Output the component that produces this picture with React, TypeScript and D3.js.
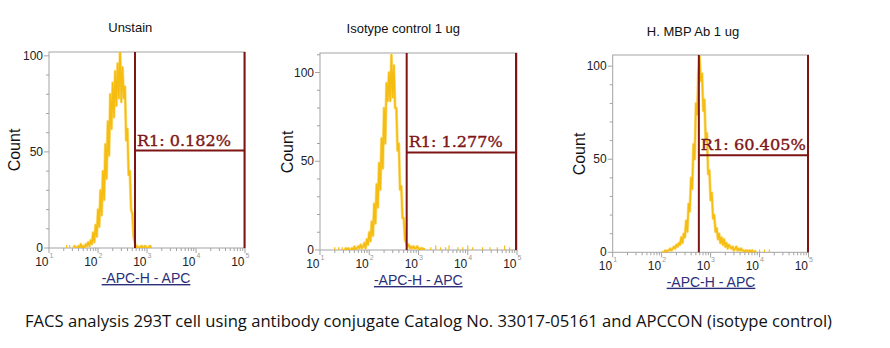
import React from 'react';
import * as d3 from 'd3';

// ---------- data ----------
const TITLES = ['Unstain', 'Isotype control 1 ug', 'H. MBP Ab 1 ug'];
const GATE_LABELS = ['R1: 0.182%', 'R1: 1.277%', 'R1: 60.405%'];
const X_LABEL = '-APC-H - APC';
const Y_LABEL = 'Count';
const CAPTION =
  'FACS analysis 293T cell using antibody conjugate Catalog No. 33017-05161 and APCCON (isotype control)';

const X_EXPONENTS = [1, 2, 3, 4, 5];
const Y_MAJOR = [0, 50, 100];
const Y_MINOR = [10, 20, 30, 40, 60, 70, 80, 90, 110];

// histogram bins: log10(APC) channel, width in decades
const BIN_WIDTH = 0.025;

const UNSTAIN_START = 1.5;
const UNSTAIN_COUNTS = [
  0, 1, 0, 0, 1, 0, 2, 0, 1, 0, 2, 1, 3, 1, 4, 2,
  8, 3, 12, 6, 20, 11, 30, 17, 40, 25, 54, 36, 66, 48, 80, 62,
  86, 68, 92, 74, 96, 78, 104, 76, 94, 78, 84, 56, 62, 38, 40, 20,
  18, 6, 3, 0, 1, 0, 0, 1, 0, 0, 1, 0, 0, 0, 1, 0,
];
const UNSTAIN_SPARSE: [number, number][] = [
  [1.36, 1], [1.42, 1], [2.9, 1], [2.98, 1], [3.08, 1],
];

const ISOTYPE_START = 1.5;
const ISOTYPE_COUNTS = [
  0, 1, 0, 1, 0, 0, 1, 0, 2, 0, 1, 2, 1, 3, 1, 2,
  4, 1, 6, 3, 10, 5, 16, 8, 26, 15, 37, 24, 49, 34, 63, 46,
  80, 60, 94, 84, 100, 84, 110, 86, 104, 80, 80, 56, 60, 34, 36, 18,
  18, 6, 4, 2, 3, 1, 2, 1, 2, 1, 1, 2, 1, 0, 1, 1, 0, 1,
];
const ISOTYPE_SPARSE: [number, number][] = [
  [1.3, 1], [1.38, 1], [1.45, 1], [3.25, 1], [3.35, 2], [3.45, 1], [3.55, 1],
  [3.62, 2], [3.8, 1], [3.9, 1], [4.0, 2], [4.1, 1], [4.3, 1], [4.45, 1],
  [4.6, 1], [4.75, 2], [4.85, 1],
];

const MBP_START = 2.0;
const MBP_COUNTS = [
  0, 0, 0, 1, 0, 1, 1, 2, 1, 2, 3, 2, 4, 3, 5, 4,
  8, 5, 10, 8, 17, 11, 26, 22, 40, 34, 58, 50, 80, 74, 96, 105,
  92, 96, 76, 82, 60, 64, 42, 44, 28, 32, 18, 20, 11, 13, 7, 10,
  5, 8, 4, 7, 3, 5, 2, 4, 3, 2, 3, 1, 2, 3, 1, 2,
  1, 2, 1, 1, 0, 1, 1, 0, 1, 0, 1, 0, 0, 1,
];
const MBP_SPARSE: [number, number][] = [
  [4.0, 1], [4.1, 1], [4.2, 1],
];

const GATE_LOW = [2.755, 2.76, 2.76];
const GATE_HIGH = [4.99, 4.98, 4.99];
const GATE_LEVEL = [50.7, 55, 52.2];
const Y_MAX = [102, 111, 106];

// ---------- layout ----------
const LAYOUT = [
  { left: 49, right: 245, top: 52, bottom: 248, titleX: 130.3, titleY: 31.7, xlabX: 146, xlabY: 283, countX: 14.5, countY: 150 },
  { left: 320, right: 517, top: 53, bottom: 250, titleX: 403.3, titleY: 33.3, xlabX: 418.3, xlabY: 285, countX: 287, countY: 152 },
  { left: 612.7, right: 808.5, top: 55, bottom: 252.3, titleX: 693, titleY: 36, xlabX: 711, xlabY: 286.7, countX: 579.5, countY: 154 },
];

const SERIES = [
  { start: UNSTAIN_START, counts: UNSTAIN_COUNTS, sparse: UNSTAIN_SPARSE },
  { start: ISOTYPE_START, counts: ISOTYPE_COUNTS, sparse: ISOTYPE_SPARSE },
  { start: MBP_START, counts: MBP_COUNTS, sparse: MBP_SPARSE },
];

const AXIS = '#a3a3a3';
const HIST = '#f5bc12';
const GATE = '#7e1515';
const SANS = 'Arial, "Liberation Sans", sans-serif';

function Panel({ i }: { i: number }) {
  const L = LAYOUT[i];
  const S = SERIES[i];
  const x = d3.scaleLog().domain([10, 1e5]).range([L.left, L.right]);
  const y = d3.scaleLinear().domain([0, Y_MAX[i]]).range([L.bottom, L.top]);
  const pts: [number, number][] = S.counts.map((c, k) => [S.start + k * BIN_WIDTH, c]);
  const line = d3
    .line<[number, number]>()
    .x((d) => x(Math.pow(10, d[0])))
    .y((d) => y(d[1]));
  const minorX: number[] = [];
  for (let e = 1; e < 5; e++) for (let m = 2; m < 10; m++) minorX.push(m * Math.pow(10, e));
  const clipId = `clip${i}`;
  const gl = x(Math.pow(10, GATE_LOW[i]));
  const gh = x(Math.pow(10, GATE_HIGH[i]));
  const gy = y(GATE_LEVEL[i]);
  return (
    <g>
      <defs>
        <clipPath id={clipId}>
          <rect x={L.left} y={L.top} width={L.right - L.left} height={L.bottom - L.top} />
        </clipPath>
      </defs>
      <text x={L.titleX} y={L.titleY} textAnchor="middle" fontFamily={SANS} fontSize={13} fill="#111">
        {TITLES[i]}
      </text>
      {/* box */}
      <rect x={L.left} y={L.top} width={L.right - L.left} height={L.bottom - L.top} fill="none" stroke={AXIS} strokeWidth={1} />
      {/* y ticks */}
      {Y_MINOR.filter((v) => v <= Y_MAX[i]).map((v) => (
        <line key={'ym' + v} x1={L.left - 3} x2={L.left} y1={y(v)} y2={y(v)} stroke={AXIS} />
      ))}
      {Y_MAJOR.map((v) => (
        <g key={'yM' + v}>
          <line x1={L.left - 5} x2={L.left} y1={y(v)} y2={y(v)} stroke={AXIS} />
          <text x={L.left - 6} y={y(v) + 4} textAnchor="end" fontFamily={SANS} fontSize={12} fill="#222">
            {v}
          </text>
        </g>
      ))}
      {/* x ticks */}
      {minorX.map((v) => (
        <line key={'xm' + v} x1={x(v)} x2={x(v)} y1={L.bottom} y2={L.bottom + 3} stroke={AXIS} />
      ))}
      {X_EXPONENTS.map((e) => {
        const px = x(Math.pow(10, e));
        return (
          <g key={'xM' + e}>
            <line x1={px} x2={px} y1={L.bottom} y2={L.bottom + 5} stroke={AXIS} />
            <text x={px - 0.5} y={L.bottom + 18} textAnchor="end" fontFamily={SANS} fontSize={12} fill="#222">
              10
            </text>
            <text x={px + 0.5} y={L.bottom + 10} fontFamily={SANS} fontSize={7} fill="#999">
              {e}
            </text>
          </g>
        );
      })}
      {/* histogram */}
      <g clipPath={`url(#${clipId})`}>
        <path d={line(pts) || ''} fill="none" stroke="#fbd24e" strokeWidth={3} strokeLinejoin="round" opacity={0.7} />
        <path d={line(pts) || ''} fill="none" stroke={HIST} strokeWidth={1.6} strokeLinejoin="round" />
        {S.sparse.map(([lg, c], k) => {
          const px = x(Math.pow(10, lg));
          return <line key={'sp' + k} x1={px} x2={px} y1={y(0)} y2={y(c) - 1} stroke={HIST} strokeWidth={1.2} />;
        })}
      </g>
      {/* gate */}
      <line x1={gl} x2={gl} y1={L.top} y2={L.bottom} stroke={GATE} strokeWidth={2} />
      <line x1={gh} x2={gh} y1={L.top} y2={L.bottom} stroke={GATE} strokeWidth={2} />
      <line x1={gl} x2={gh} y1={gy} y2={gy} stroke={GATE} strokeWidth={2} />
      <text
        x={gl + 2}
        y={gy - 5}
        fontFamily='"DejaVu Serif", serif'
        fontSize={14}
        fill={GATE}
        stroke={GATE}
        strokeWidth={0.35}
        textLength={i === 2 ? 105 : 94}
        lengthAdjust="spacingAndGlyphs"
      >
        {GATE_LABELS[i]}
      </text>
      {/* labels */}
      <text
        x={L.xlabX}
        y={L.xlabY}
        textAnchor="middle"
        fontFamily={SANS}
        fontSize={14}
        fill="#2b2f7a"
        textDecoration="underline"
      >
        {X_LABEL}
      </text>
      <text
        transform={`translate(${L.countX + 5.5},${L.countY}) rotate(-90)`}
        textAnchor="middle"
        fontFamily={SANS}
        fontSize={16}
        fill="#111"
      >
        {Y_LABEL}
      </text>
    </g>
  );
}

export default function App() {
  return (
    <svg
      width={890}
      height={348}
      style={{ position: 'absolute', left: 0, top: 0, background: '#fff' }}
      xmlns="http://www.w3.org/2000/svg"
    >
      <rect width={890} height={348} fill="#fff" />
      {[0, 1, 2].map((i) => (
        <Panel key={i} i={i} />
      ))}
      <text
        x={25}
        y={327}
        fontFamily='"Open Sans", "Noto Sans", sans-serif'
        fontSize={16}
        fill="#111"
        textLength={807}
        lengthAdjust="spacingAndGlyphs"
      >
        {CAPTION}
      </text>
    </svg>
  );
}
